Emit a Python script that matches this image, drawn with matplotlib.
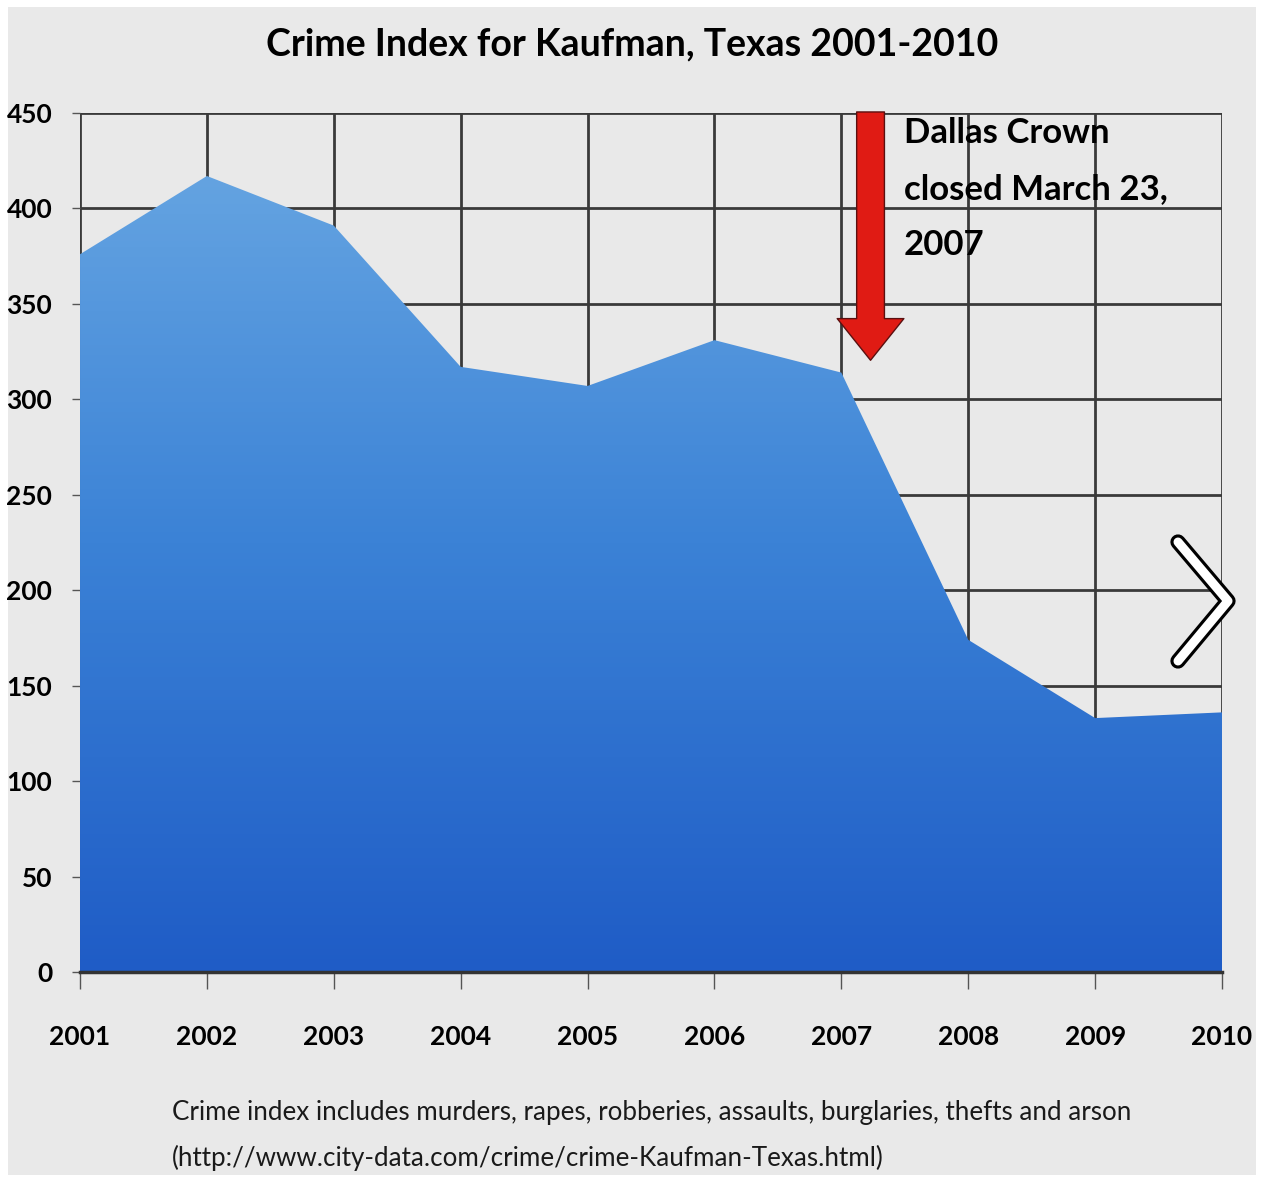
import matplotlib.pyplot as plt
import numpy as np
from matplotlib.colors import LinearSegmentedColormap
from matplotlib.lines import Line2D

years = [2001, 2002, 2003, 2004, 2005, 2006, 2007, 2008, 2009, 2010]
crime_index = [376, 417, 391, 317, 307, 331, 314, 174, 133, 136]
y_ticks = [0, 50, 100, 150, 200, 250, 300, 350, 400, 450]

title = "Crime Index for Kaufman, Texas 2001-2010"
note = ("Crime index includes murders, rapes, robberies, assaults, burglaries, thefts and arson\n"
        "(http://www.city-data.com/crime/crime-Kaufman-Texas.html)")
event_x, event_text = 2007.23, "Dallas Crown\nclosed March 23,\n2007"

plt.rcParams['font.family'] = ['Lato', 'DejaVu Sans']
plt.rcParams['font.weight'] = 'bold'

fig = plt.figure(figsize=(12.64, 11.82), dpi=100, facecolor="white")
fig.patches.append(plt.Rectangle((0.006, 0.006), 0.988, 0.988, transform=fig.transFigure,
                                 facecolor="#e9e9e9", edgecolor="none", zorder=-5))
ax = fig.add_axes([0.0633, 0.1777, 0.9035, 0.7267])
ax.set_facecolor("#e9e9e9")

# gradient-filled area
poly = ax.fill_between(years, crime_index, 0, facecolor="none", edgecolor="none")
cmap = LinearSegmentedColormap.from_list("blues", ["#1f5cc6", "#3b82d6", "#6ba9e3"])
grad = ax.imshow(np.linspace(0, 1, 256).reshape(-1, 1), cmap=cmap, origin="lower", aspect="auto",
                 extent=[years[0], years[-1], 0, 450], zorder=1)
grad.set_clip_path(poly.get_paths()[0], transform=ax.transData)

ax.set_xlim(years[0], years[-1])
ax.set_ylim(0, 450)
ax.set_xticks(years)
ax.set_yticks(y_ticks)
ax.grid(True, color="#3a3a3a", linewidth=2, zorder=0)
ax.set_axisbelow(True)
for s in ["top", "right", "left"]:
    ax.spines[s].set_visible(False)
ax.spines["bottom"].set_color("#333333")
ax.spines["bottom"].set_linewidth(2.5)
ax.spines["bottom"].set_zorder(3)
ax.tick_params(axis="x", length=12, width=1, colors="#555555", labelcolor="black",
               labelsize=19, pad=26)
ax.tick_params(axis="y", length=6, width=1, colors="#555555", labelcolor="black",
               labelsize=19, pad=14)

# red arrow marking the closure
ax.annotate("", xy=(event_x, 319), xytext=(event_x, 452),
            arrowprops=dict(arrowstyle="simple,head_width=4.8,head_length=3.0,tail_width=2.0",
                            mutation_scale=10, facecolor="#e01b14", edgecolor="#5a1010",
                            linewidth=1),
            zorder=5, annotation_clip=False)
ax.text(event_x + 0.26, 448, event_text, fontsize=25, fontweight="bold", va="top", ha="left",
        linespacing=1.92, zorder=6)

# screen-capture navigation chevron on the right edge
fig.add_artist(Line2D([1178 / 1264, 1228 / 1264, 1178 / 1264],
                      [1 - 542 / 1182, 1 - 601 / 1182, 1 - 661 / 1182],
                      transform=fig.transFigure, color="black", linewidth=11,
                      solid_capstyle="round", solid_joinstyle="round", zorder=10))
fig.add_artist(Line2D([1178 / 1264, 1228 / 1264, 1178 / 1264],
                      [1 - 542 / 1182, 1 - 601 / 1182, 1 - 661 / 1182],
                      transform=fig.transFigure, color="white", linewidth=6.5,
                      solid_capstyle="round", solid_joinstyle="round", zorder=11))

fig.text(0.5, 0.962, title, ha="center", va="center", fontsize=27, fontweight="bold")
fig.text(0.136, 0.039, note, ha="left", va="center", fontsize=18.7, fontweight="normal",
         linespacing=1.95, color="#1a1a1a")

fig.savefig("out.png", dpi=100, facecolor=fig.get_facecolor())
